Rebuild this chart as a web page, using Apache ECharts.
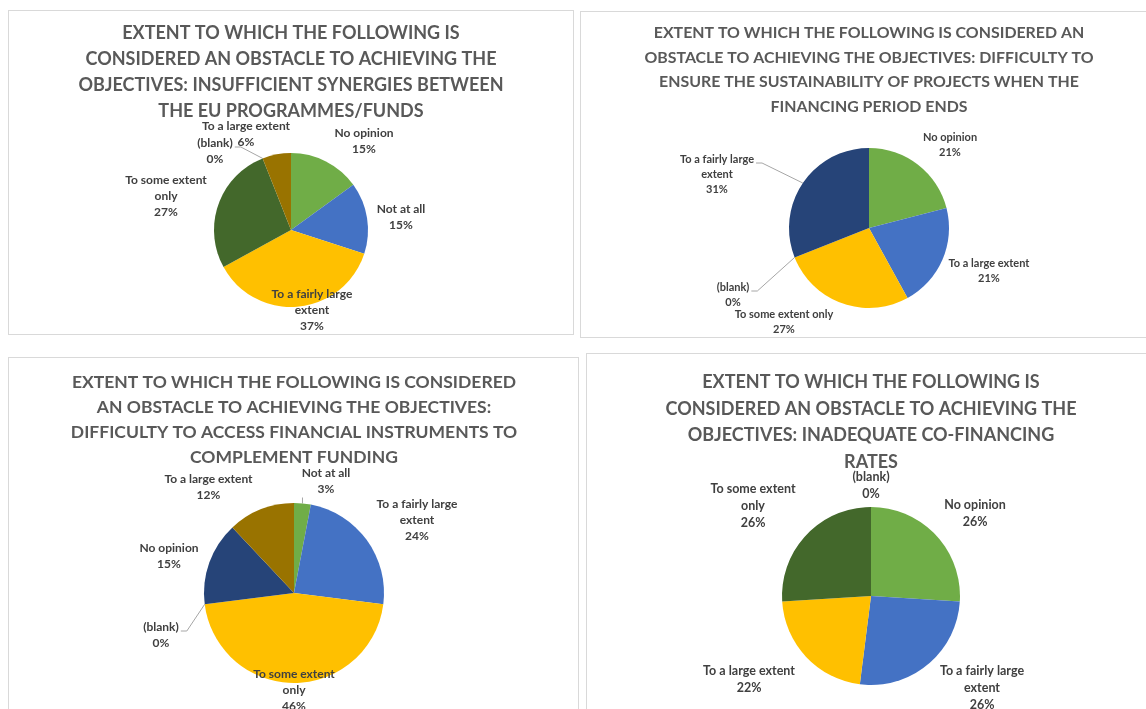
<!DOCTYPE html>
<html><head><meta charset="utf-8">
<script src="https://cdn.jsdelivr.net/npm/echarts@6/dist/echarts.min.js"></script>
<style>
html,body{margin:0;padding:0;width:1146px;height:709px;overflow:hidden;background:#fff}
.panel{position:absolute;border:1px solid #d9d9d9;box-sizing:border-box}
#chart{position:absolute;left:0;top:0;width:1146px;height:709px}
</style></head><body>
<div class="panel" style="left:8px;top:10px;width:566px;height:325px"></div>
<div class="panel" style="left:580px;top:11px;width:600px;height:327px"></div>
<div class="panel" style="left:8px;top:357px;width:571px;height:400px"></div>
<div class="panel" style="left:586px;top:353px;width:600px;height:400px"></div>
<div id="chart"></div>
<script>
// ---------- DATA ----------
const TITLE_1 = ['EXTENT TO WHICH THE FOLLOWING IS', 'CONSIDERED AN OBSTACLE TO ACHIEVING THE', 'OBJECTIVES: INSUFFICIENT SYNERGIES BETWEEN', 'THE EU PROGRAMMES/FUNDS'];
const CATS_1 = ['No opinion', 'Not at all', 'To a fairly large extent', 'To some extent only', '(blank)', 'To a large extent'];
const VALS_1 = [15, 15, 37, 27, 0, 6];

const TITLE_2 = ['EXTENT TO WHICH THE FOLLOWING IS CONSIDERED AN', 'OBSTACLE TO ACHIEVING THE OBJECTIVES: DIFFICULTY TO', 'ENSURE THE SUSTAINABILITY OF PROJECTS WHEN THE', 'FINANCING PERIOD ENDS'];
const CATS_2 = ['No opinion', 'To a large extent', 'To some extent only', '(blank)', 'To a fairly large extent'];
const VALS_2 = [21, 21, 27, 0, 31];

const TITLE_3 = ['EXTENT TO WHICH THE FOLLOWING IS CONSIDERED', 'AN OBSTACLE TO ACHIEVING THE OBJECTIVES:', 'DIFFICULTY TO ACCESS FINANCIAL INSTRUMENTS TO', 'COMPLEMENT FUNDING'];
const CATS_3 = ['Not at all', 'To a fairly large extent', 'To some extent only', '(blank)', 'No opinion', 'To a large extent'];
const VALS_3 = [3, 24, 46, 0, 15, 12];

const TITLE_4 = ['EXTENT TO WHICH THE FOLLOWING IS', 'CONSIDERED AN OBSTACLE TO ACHIEVING THE', 'OBJECTIVES: INADEQUATE CO-FINANCING', 'RATES'];
const CATS_4 = ['No opinion', 'To a fairly large extent', 'To a large extent', 'To some extent only', '(blank)'];
const VALS_4 = [26, 26, 22, 26, 0];

// ---------- STYLE / LAYOUT ----------
const GREEN = '#70AD47', BLUE = '#4472C4', GOLD = '#FFC000', DKGREEN = '#43682B', DKBLUE = '#264478', BROWN = '#997300', GREY = '#A5A5A5';
const CHARTS = [
  { title: TITLE_1, cats: CATS_1, vals: VALS_1, colors: [GREEN, BLUE, GOLD, DKGREEN, GREY, BROWN],
    center: [291, 230], r: 77, titleTop: 20, titleSize: 18, titleLH: 26,
    fs: 12, lh: 16, wrap: 97, leaders: ['(blank)'],
    offs: [[73, -88.5], [110, -13], [21, 80], [-125, -34], [-76, -79], [-45, -95.5]] },
  { title: TITLE_2, cats: CATS_2, vals: VALS_2, colors: [GREEN, BLUE, GOLD, GREY, DKBLUE],
    center: [869, 228], r: 80, titleTop: 21, titleSize: 15.9, titleLH: 24.5,
    fs: 11, lh: 15, wrap: 102, leaders: ['(blank)', 'To a fairly large extent'],
    offs: [[81, -83.5], [120, 43], [-85, 93.5], [-136, 66.5], [-152, -54]] },
  { title: TITLE_3, cats: CATS_3, vals: VALS_3, colors: [GREEN, BLUE, GOLD, GREY, DKBLUE, BROWN],
    center: [294, 593], r: 90, titleTop: 369.5, titleSize: 17.5, titleLH: 25,
    fs: 12, lh: 16, wrap: 97, leaders: ['(blank)', 'Not at all'],
    offs: [[32, -111.5], [123, -73], [0, 97], [-133, 42], [-125, -37], [-85.5, -106]] },
  { title: TITLE_4, cats: CATS_4, vals: VALS_4, colors: [GREEN, BLUE, GOLD, DKGREEN, GREY],
    center: [871, 596], r: 89, titleTop: 369, titleSize: 18, titleLH: 26.5,
    fs: 12.5, lh: 17, wrap: 100, leaders: [],
    offs: [[104, -82.5], [111, 92], [-122, 83.5], [-118, -90], [0, -110.5]] }
];
const FONT = 'Lato';

const mctx = document.createElement('canvas').getContext('2d');
function wrapText(str, maxW, fs) {
  mctx.font = 'bold ' + fs + 'px ' + FONT;
  const words = str.split(' ');
  const lines = [];
  let cur = '';
  words.forEach(w => {
    const t = cur ? cur + ' ' + w : w;
    if (cur && mctx.measureText(t).width > maxW) { lines.push(cur); cur = w; }
    else cur = t;
  });
  if (cur) lines.push(cur);
  return lines.join('\n');
}

const titles = CHARTS.map(c => ({
  text: c.title.join('\n'), left: c.center[0], top: c.titleTop, textAlign: 'center', padding: 0,
  textStyle: { fontFamily: FONT, fontWeight: 'bold', fontSize: c.titleSize, lineHeight: c.titleLH, color: '#595959' }
}));

const series = CHARTS.map((c, si) => {
  const total = c.vals.reduce((a, b) => a + b, 0);
  const mids = [];
  let cum = 0;
  c.vals.forEach(v => { mids.push((cum + v / 2) / total * 2 * Math.PI); cum += v; });
  return {
    type: 'pie', center: c.center, radius: c.r, startAngle: 90, clockwise: true,
    avoidLabelOverlap: false, silent: true, animation: false,
    itemStyle: { borderWidth: 0 },
    label: {
      show: true, position: 'outside', alignTo: 'none',
      fontFamily: FONT, fontWeight: 'bold', fontSize: c.fs, lineHeight: c.lh, color: '#404040',
      formatter: p => wrapText(p.name, c.wrap, c.fs) + '\n' + p.value + '%'
    },
    labelLine: { show: false, smooth: false, lineStyle: { color: '#A6A6A6', width: 1 } },
    labelLayout: p => {
      const o = c.offs[p.dataIndex];
      const x = c.center[0] + o[0], y = c.center[1] + o[1];
      const res = { x: x, y: y, align: 'center', verticalAlign: 'middle' };
      if (c.leaders.indexOf(c.cats[p.dataIndex]) >= 0) {
        const a = mids[p.dataIndex];
        const p0 = [c.center[0] + c.r * Math.sin(a), c.center[1] - c.r * Math.cos(a)];
        const w = p.labelRect.width, h = p.labelRect.height;
        const l = x - w / 2, rr = x + w / 2, t = y - h / 2, b = y + h / 2;
        if (p0[0] > rr || p0[0] < l) {
          const side = p0[0] > rr ? rr + 2 : l - 2;
          const dir = p0[0] > rr ? 1 : -1;
          const ey = t + c.lh / 2 + 4;
          res.labelLinePoints = [p0, [side + dir * 6, ey], [side, ey]];
        } else {
          const ey = p0[1] > b ? b : t;
          res.labelLinePoints = [p0, [p0[0], ey], [p0[0], ey]];
        }
      }
      return res;
    },
    data: c.cats.map((n, i) => ({
      name: n, value: c.vals[i], itemStyle: { color: c.colors[i] },
      labelLine: { show: c.leaders.indexOf(n) >= 0 }
    }))
  };
});

const chart = echarts.init(document.getElementById('chart'), null, { renderer: 'canvas' });
chart.setOption({ animation: false, title: titles, series: series });
</script>
</body></html>
